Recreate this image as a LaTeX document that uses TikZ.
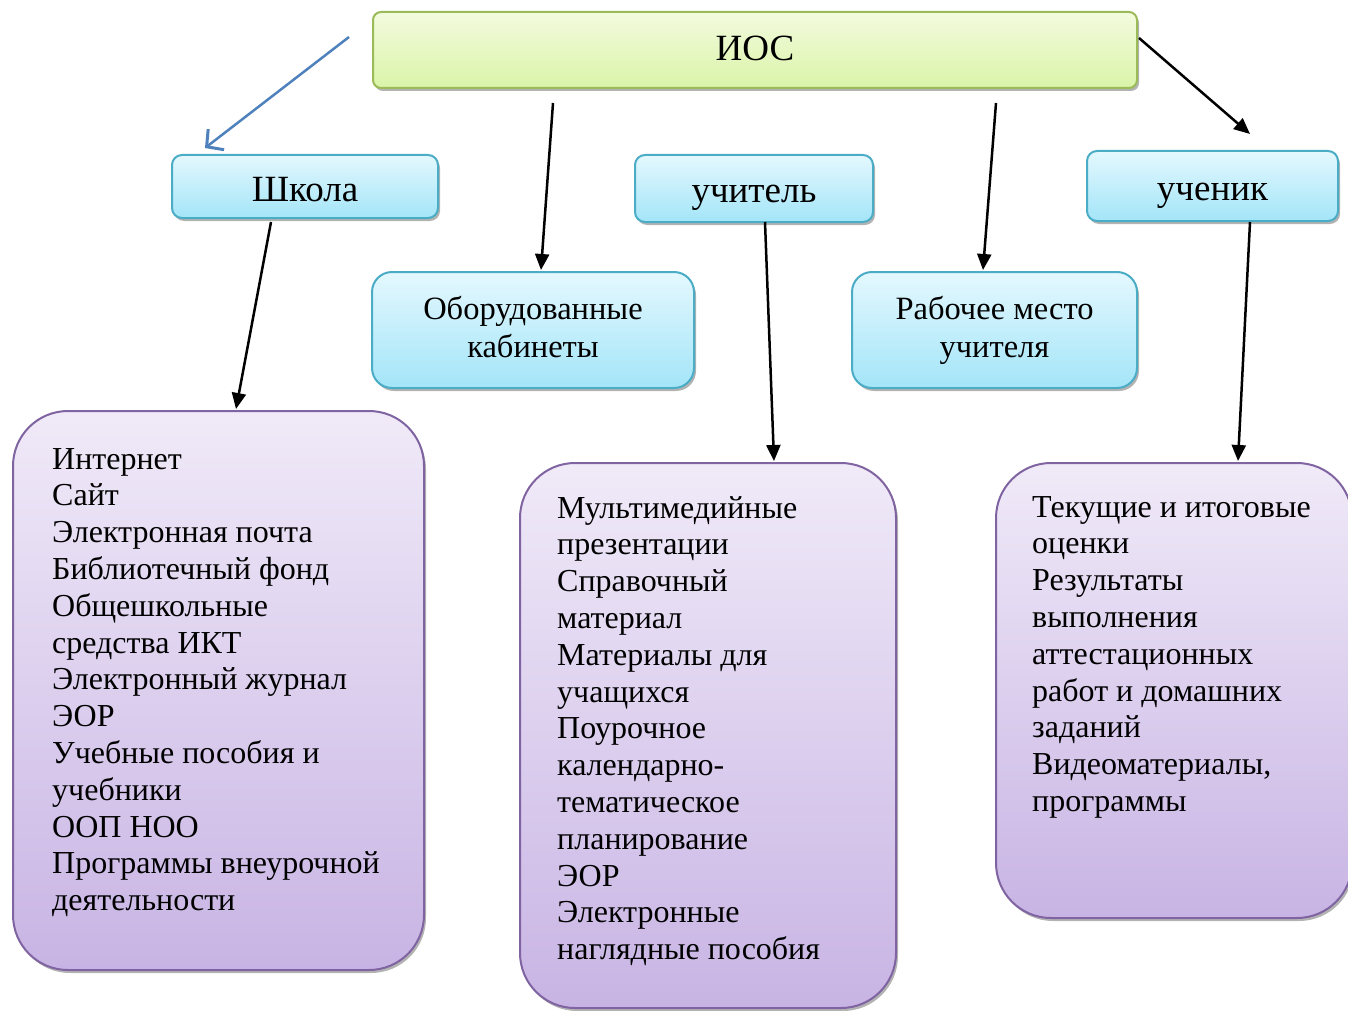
\documentclass[tikz,border=0pt]{standalone}
\usepackage{fontspec}
\setmainfont{Liberation Serif}
\usetikzlibrary{arrows.meta,shadows}
\definecolor{grnB}{RGB}{155,187,89}
\definecolor{grnT}{RGB}{243,251,222}
\definecolor{grnBot}{RGB}{218,244,168}
\definecolor{cyB}{RGB}{75,172,198}
\definecolor{cyT}{RGB}{228,248,254}
\definecolor{cyBot}{RGB}{163,229,248}
\definecolor{puB}{RGB}{128,100,162}
\definecolor{puT}{RGB}{240,234,248}
\definecolor{puBot}{RGB}{200,180,228}
\definecolor{arrBlue}{RGB}{79,129,189}
\begin{document}
\begin{tikzpicture}[x=1pt,y=-1pt,
  box/.style={draw, line width=2pt, inner sep=0pt, align=center,
    drop shadow={shadow xshift=2pt,shadow yshift=-3pt,fill=black!50,opacity=.6}},
  greenbox/.style={box, draw=grnB, top color=grnT, bottom color=grnBot, rounded corners=8pt,
    font=\fontsize{37}{40}\selectfont, text height=22pt, text depth=0pt},
  cyanbox/.style={box, draw=cyB, top color=cyT, bottom color=cyBot, rounded corners=10pt,
    font=\fontsize{37}{40}\selectfont, text height=29pt, text depth=0pt},
  cyanbig/.style={box, draw=cyB, top color=cyT, bottom color=cyBot, rounded corners=20pt,
    font=\fontsize{32.5}{38}\selectfont},
  purplebox/.style={box, draw=puB, top color=puT, bottom color=puBot, rounded corners=55pt},
  itemtext/.style={anchor=base west, inner sep=0pt, font=\fontsize{32}{36.8}\selectfont},
  arr/.style={line width=2.5pt, -{Triangle[length=16pt,width=14pt]}},
  bluearr/.style={draw=arrBlue, line width=2.5pt, -{Straight Barb[length=12pt,width=26pt,line width=3pt]}}
]
\useasboundingbox (0,0) rectangle (1348,1011);
\clip (0,0) rectangle (1348,1011);

% top-level boxes
\node[greenbox, minimum width=764pt, minimum height=76pt] (ios) at (755,50) {ИОС};
\node[cyanbox, minimum width=266pt, minimum height=63pt] (shkola) at (305,186.5) {Школа};
\node[cyanbox, minimum width=238pt, minimum height=67pt] (uchitel) at (754,188.5) {учитель};
\node[cyanbox, minimum width=251pt, minimum height=70pt] (uchenik) at (1212.5,186) {ученик};
\node[cyanbig, minimum width=322pt, minimum height=116pt] (kabinety) at (533,330)
  {Оборудованные\\кабинеты\vphantom{у}};
\node[cyanbig, minimum width=285pt, minimum height=116pt] (mesto) at (994.5,330)
  {Рабочее место\\учителя};

% purple boxes
\node[purplebox, minimum width=411pt, minimum height=559pt] (leftbox) at (218.5,690.5) {};
\node[purplebox, minimum width=376pt, minimum height=545pt] (midbox) at (708,735.5) {};
\node[purplebox, minimum width=356pt, minimum height=455pt] (rightbox) at (1174,690.5) {};

\node[itemtext] (lefttext) at (52,469) {\parbox[t]{370pt}{\raggedright
  Интернет\\Сайт\\Электронная почта\\Библиотечный фонд\\Общешкольные\\средства ИКТ\\
  Электронный журнал\\ЭОР\\Учебные пособия и\\учебники\\ООП НОО\\
  Программы внеурочной\\деятельности}};
\node[itemtext] (midtext) at (557,518) {\parbox[t]{330pt}{\raggedright
  Мультимедийные\\презентации\\Справочный\\материал\\Материалы для\\учащихся\\
  Поурочное\\календарно-\\тематическое\\планирование\\ЭОР\\Электронные\\
  наглядные пособия}};
\node[itemtext] (righttext) at (1032,517) {\parbox[t]{320pt}{\raggedright
  Текущие и итоговые\\оценки\\Результаты\\выполнения\\аттестационных\\
  работ и домашних\\заданий\\Видеоматериалы,\\программы}};

% connector end points
\coordinate (b1) at (349,37);   \coordinate (b2) at (205,148);
\coordinate (r1) at (1139,38);  \coordinate (r2) at (1250,134);
\coordinate (k1) at (553,103);  \coordinate (k2) at (541,270);
\coordinate (m1) at (996,103);  \coordinate (m2) at (983,270);
\coordinate (s1) at (271,222);  \coordinate (s2) at (236,409);
\coordinate (u1) at (765,222);  \coordinate (u2) at (774,461);
\coordinate (e1) at (1250,222); \coordinate (e2) at (1238,461);

\draw[bluearr] (b1) -- (b2);
\draw[arr] (r1) -- (r2);
\draw[arr] (k1) -- (k2);
\draw[arr] (m1) -- (m2);
\draw[arr] (s1) -- (s2);
\draw[arr] (u1) -- (u2);
\draw[arr] (e1) -- (e2);
\end{tikzpicture}
\end{document}
